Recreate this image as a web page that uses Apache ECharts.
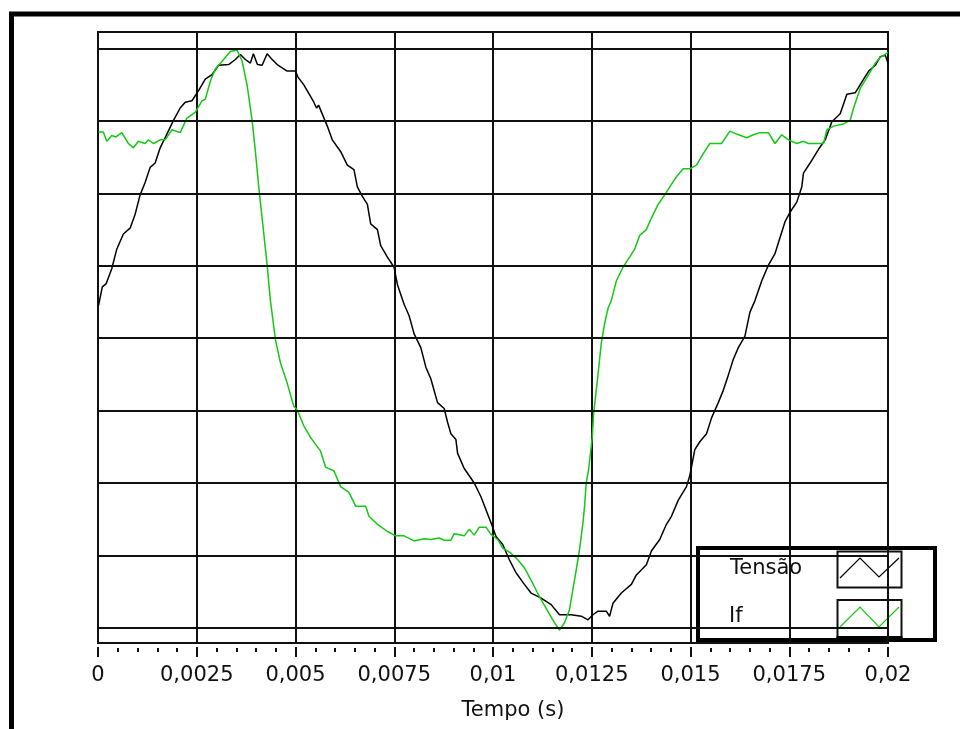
<!DOCTYPE html>
<html><head><meta charset="utf-8">
<script src="https://cdn.jsdelivr.net/npm/echarts@6/dist/echarts.min.js"></script>
<style>html,body{margin:0;padding:0;background:#fff}#c{width:960px;height:729px}</style>
</head><body><div id="c"></div>
<script>
// Time axis (s)
const xMin = 0, xMax = 0.02, xStep = 0.0025;
// Horizontal grid levels (divisions, no labels in original)
const gridLevels = [-4, -3, -2, -1, 0, 1, 2, 3, 4];
const seriesNames = ['Tensão', 'If'];

// Tensão (black)
const tensaoT = [0.000013,0.000025,0.000109,0.000203,0.000348,0.000475,0.000642,0.000812,0.000939,0.001066,0.001193,0.00132,0.001447,0.001574,0.001744,0.001911,0.002081,0.002208,0.002378,0.002546,0.002716,0.002886,0.003053,0.003307,0.003477,0.003604,0.003731,0.003858,0.003934,0.004036,0.004155,0.004282,0.004391,0.004536,0.004703,0.004789,0.005,0.005058,0.005211,0.005464,0.005533,0.005584,0.005805,0.005931,0.006142,0.006312,0.00648,0.006566,0.006693,0.00682,0.006904,0.007074,0.007157,0.007327,0.007495,0.007581,0.007749,0.007876,0.008003,0.008173,0.0083,0.008426,0.008596,0.008764,0.00885,0.008934,0.009061,0.009104,0.009272,0.009525,0.009695,0.009822,0.009949,0.010076,0.010246,0.010414,0.010584,0.010794,0.010964,0.011218,0.011472,0.011683,0.01198,0.012234,0.012404,0.01253,0.012657,0.012868,0.012952,0.013038,0.013249,0.013503,0.01363,0.013883,0.01401,0.014221,0.014391,0.014518,0.014688,0.014898,0.014982,0.015109,0.015236,0.015406,0.015533,0.015703,0.01583,0.015957,0.016084,0.016211,0.016378,0.016505,0.016632,0.016802,0.016972,0.01714,0.017267,0.017393,0.01752,0.01769,0.017817,0.01786,0.018028,0.018241,0.018409,0.018579,0.01879,0.018959,0.01917,0.019383,0.01951,0.019678,0.019805,0.019931,0.02];
const tensaoV = [0.45,0.47,0.71,0.75,0.96,1.23,1.44,1.52,1.71,1.98,2.15,2.36,2.42,2.63,2.82,3.01,3.18,3.26,3.28,3.42,3.58,3.64,3.77,3.78,3.85,3.92,3.85,3.8,3.93,3.78,3.77,3.93,3.86,3.78,3.72,3.69,3.69,3.61,3.5,3.26,3.18,3.22,2.93,2.74,2.58,2.39,2.33,2.09,1.96,1.85,1.58,1.5,1.28,1.12,0.98,0.74,0.47,0.31,0.06,-0.13,-0.4,-0.56,-0.89,-0.97,-1.16,-1.32,-1.4,-1.59,-1.8,-2.0,-2.19,-2.37,-2.55,-2.74,-2.85,-3.06,-3.24,-3.4,-3.52,-3.59,-3.68,-3.82,-3.82,-3.84,-3.89,-3.82,-3.77,-3.77,-3.84,-3.66,-3.52,-3.4,-3.27,-3.13,-2.94,-2.78,-2.57,-2.46,-2.24,-2.05,-1.9,-1.54,-1.43,-1.32,-1.1,-0.89,-0.72,-0.51,-0.29,-0.13,0.03,0.36,0.52,0.79,1.01,1.17,1.39,1.61,1.74,1.88,2.09,2.28,2.42,2.61,2.74,2.99,3.1,3.37,3.39,3.58,3.69,3.77,3.89,3.91,3.8];

// If (green)
const ifT = [0.000013,0.000135,0.000221,0.000348,0.000457,0.000602,0.000769,0.000896,0.001023,0.001193,0.001277,0.001404,0.001574,0.001701,0.001871,0.002081,0.002251,0.002462,0.002632,0.002716,0.002843,0.00297,0.00318,0.00335,0.00352,0.003647,0.003774,0.003901,0.003985,0.004069,0.004155,0.004282,0.004365,0.004492,0.004619,0.004789,0.004957,0.005043,0.005211,0.005381,0.005635,0.005761,0.005972,0.006142,0.006353,0.006523,0.006777,0.00686,0.007074,0.007327,0.007538,0.007749,0.008003,0.008256,0.008426,0.008637,0.008764,0.008934,0.009018,0.009272,0.009398,0.009525,0.009652,0.009822,0.009949,0.010119,0.010246,0.010457,0.010627,0.010794,0.010964,0.011175,0.011345,0.011556,0.011683,0.01181,0.011937,0.012023,0.012107,0.01219,0.012277,0.012318,0.01236,0.012419,0.012513,0.012546,0.012657,0.012741,0.012825,0.012911,0.012995,0.013122,0.013292,0.013459,0.013586,0.013713,0.013883,0.01401,0.01418,0.014348,0.014475,0.014645,0.014815,0.014982,0.015152,0.015322,0.01549,0.015787,0.015997,0.016168,0.016421,0.016591,0.016759,0.016972,0.01714,0.01731,0.01748,0.01769,0.01786,0.017987,0.018368,0.018452,0.018622,0.018876,0.019043,0.019129,0.019297,0.01951,0.019678,0.019805,0.019931,0.02];
const ifV = [2.85,2.85,2.72,2.8,2.78,2.84,2.69,2.63,2.72,2.69,2.74,2.69,2.74,2.74,2.88,2.84,3.04,3.12,3.28,3.3,3.55,3.72,3.85,3.96,3.98,3.83,3.5,3.01,2.58,2.09,1.66,1.01,0.52,-0.02,-0.34,-0.62,-0.94,-0.99,-1.21,-1.37,-1.56,-1.78,-1.83,-2.05,-2.13,-2.32,-2.32,-2.46,-2.57,-2.67,-2.73,-2.73,-2.8,-2.77,-2.78,-2.76,-2.79,-2.79,-2.7,-2.73,-2.64,-2.72,-2.61,-2.61,-2.71,-2.78,-2.9,-2.97,-3.06,-3.17,-3.34,-3.57,-3.73,-3.93,-4.03,-3.93,-3.75,-3.47,-3.2,-2.92,-2.55,-2.32,-2.0,-1.82,-1.37,-1.05,-0.51,-0.07,0.2,0.41,0.52,0.79,0.98,1.12,1.23,1.42,1.5,1.66,1.85,1.98,2.09,2.23,2.34,2.34,2.39,2.55,2.69,2.69,2.86,2.82,2.77,2.81,2.84,2.84,2.69,2.81,2.74,2.69,2.72,2.69,2.69,2.88,2.93,2.96,3.01,3.18,3.45,3.64,3.8,3.88,3.92,3.95];

const zip = (a, b) => a.map((t, i) => [t, b[i]]);
const FONT = 'DejaVu Sans';

const chart = echarts.init(document.getElementById('c'), null, {renderer: 'canvas'});
chart.setOption({
  backgroundColor: '#fff',
  animation: false,
  grid: {left: 98, right: 72, top: 32, bottom: 86, show: true, borderColor: '#111', borderWidth: 2, backgroundColor: '#fff'},
  xAxis: {
    type: 'value', min: xMin, max: xMax, interval: xStep,
    name: 'Tempo (s)', nameLocation: 'middle', nameGap: 57,
    nameTextStyle: {fontFamily: FONT, fontSize: 21, color: '#111', padding: [0, 0, 0, 40]},
    axisLine: {show: false, onZero: false},
    axisTick: {show: true, length: 14, lineStyle: {color: '#111', width: 2, type: [10, 4], dashOffset: 10}},
    minorTick: {show: true, splitNumber: 5, length: 9, lineStyle: {color: '#111', width: 2, type: [4, 5], dashOffset: 4}},
    axisLabel: {fontFamily: FONT, fontSize: 21, color: '#111', margin: 22,
      formatter: v => String(+v.toFixed(5)).replace('.', ',')},
    splitLine: {show: true, lineStyle: {color: '#111', width: 2}}
  },
  yAxis: {type: 'value', min: -4.21, max: 4.23, show: false, splitLine: {show: false}},
  series: [
    {name: seriesNames[0], type: 'line', data: zip(tensaoT, tensaoV), showSymbol: false, symbol: 'none',
     lineStyle: {color: '#000', width: 1.5}, z: 3,
     markLine: {silent: true, symbol: 'none', label: {show: false},
       lineStyle: {color: '#111', width: 2, type: 'solid'},
       data: gridLevels.map(v => ({yAxis: v}))}},
    {name: seriesNames[1], type: 'line', data: zip(ifT, ifV), showSymbol: false, symbol: 'none',
     lineStyle: {color: '#14c814', width: 1.5}, z: 4}
  ],
  graphic: [
    {type: 'polyline', z: 100, shape: {points: [[11.5, 729], [11.5, 14], [960, 14]]},
     style: {stroke: '#000', lineWidth: 5, fill: null}},
    {type: 'group', z: 100, children: [
      {type: 'rect', shape: {x: 698, y: 548, width: 237, height: 92}, style: {fill: '#fff', stroke: '#000', lineWidth: 4}},
      {type: 'text', x: 730, y: 569, style: {text: seriesNames[0], font: '21px "DejaVu Sans"', fill: '#111', verticalAlign: 'middle'}},
      {type: 'text', x: 729, y: 617, style: {text: seriesNames[1], font: '21px "DejaVu Sans"', fill: '#111', verticalAlign: 'middle'}},
      {type: 'rect', shape: {x: 837.5, y: 551.5, width: 64, height: 36}, style: {fill: '#fff', stroke: '#111', lineWidth: 2}},
      {type: 'polyline', shape: {points: [[840, 578], [860, 558], [879, 577], [899, 558]]}, style: {stroke: '#000', lineWidth: 1.2, fill: null}},
      {type: 'rect', shape: {x: 837.5, y: 600, width: 64, height: 37}, style: {fill: '#fff', stroke: '#111', lineWidth: 2}},
      {type: 'polyline', shape: {points: [[840, 627], [860, 607], [879, 627], [899, 607]]}, style: {stroke: '#14c814', lineWidth: 1.2, fill: null}},
      {type: 'rect', shape: {x: 836.5, y: 636, width: 66, height: 6}, style: {fill: '#000'}}
    ]}
  ]
});
</script></body></html>
